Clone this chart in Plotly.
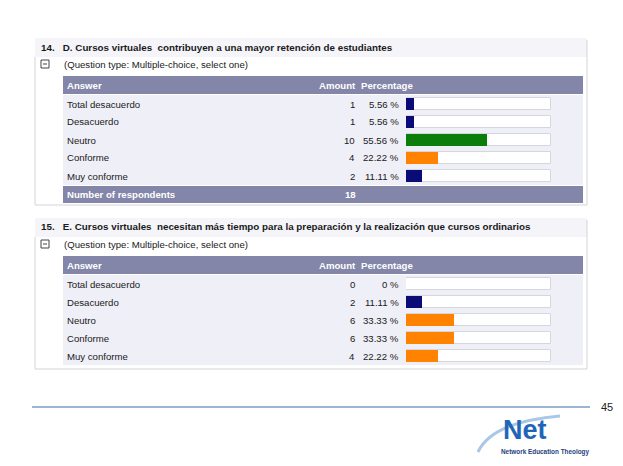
import plotly.graph_objects as go

W, H = 623, 466

answers = ["Total desacuerdo", "Desacuerdo", "Neutro", "Conforme", "Muy conforme"]

q14_title = "14.   D. Cursos virtuales  contribuyen a una mayor retención de estudiantes"
q14_amount = [1, 1, 10, 4, 2]
q14_pct = [5.56, 5.56, 55.56, 22.22, 11.11]
q14_pct_label = ["5.56 %", "5.56 %", "55.56 %", "22.22 %", "11.11 %"]
q14_colors = ["#0b0b78", "#0b0b78", "#0a7d0a", "#ff8200", "#0b0b78"]
q14_total = 18

q15_title = "15.   E. Cursos virtuales  necesitan más tiempo para la preparación y la realización que cursos ordinarios"
q15_amount = [0, 2, 6, 6, 4]
q15_pct = [0, 11.11, 33.33, 33.33, 22.22]
q15_pct_label = ["0 %", "11.11 %", "33.33 %", "33.33 %", "22.22 %"]
q15_colors = ["#0b0b78", "#0b0b78", "#ff8200", "#ff8200", "#ff8200"]

subtitle = "(Question type: Multiple-choice, select one)"
page_number = "45"

FONT = "Liberation Sans, Arial, sans-serif"
HEADER = "#8385a9"
ROWBG = "#efeff7"
TITLEBG = "#f4f4f9"
BORDER = "#d4d4d8"


def px(x):
    return x / W


def py(y):
    return 1 - y / H


fig = go.Figure()
shapes = []
annotations = []


def rect(x0, y0, x1, y1, fill, line=None, lw=0):
    shapes.append(dict(type="rect", xref="paper", yref="paper",
                       x0=px(x0), x1=px(x1), y0=py(y1), y1=py(y0),
                       fillcolor=fill, line=dict(color=line or fill, width=lw), layer="below"))


def hline(x0, x1, y, color, w=1):
    shapes.append(dict(type="line", xref="paper", yref="paper",
                       x0=px(x0), x1=px(x1), y0=py(y), y1=py(y),
                       line=dict(color=color, width=w)))


def vline(x, y0, y1, color, w=1):
    shapes.append(dict(type="line", xref="paper", yref="paper",
                       x0=px(x), x1=px(x), y0=py(y0), y1=py(y1),
                       line=dict(color=color, width=w)))


def text(x, y, s, size=10, color="#1a1a1a", bold=False, anchor="left", family=FONT):
    # compensate the small built-in annotation padding
    if anchor == "left":
        x -= 2
    elif anchor == "right":
        x += 2
    annotations.append(dict(xref="paper", yref="paper", x=px(x), y=py(y), text=("<b>%s</b>" % s) if bold else s,
                            showarrow=False, xanchor=anchor, yanchor="middle",
                            font=dict(family=family, size=size, color=color)))


def panel(top, title, amounts, pct_labels, total, bottom, footer):
    # title band
    rect(35, top, 587, top + 19, TITLEBG)
    vline(35, top + 19, bottom, BORDER)
    vline(587, top + 2, bottom, BORDER)
    hline(35, 587, bottom, BORDER)
    text(41, top + 9, title, size=9.8, bold=True)
    # minus icon
    rect(41, top + 22, 49, top + 30, "#ffffff", "#444444", 1)
    hline(43, 47, top + 26, "#444444", 1)
    text(64, top + 26, subtitle, size=9.6)
    # header
    h0 = top + 38
    rect(63, h0, 583, h0 + 18, HEADER)
    text(67, h0 + 9, "Answer", size=9.6, color="white", bold=True)
    text(356, h0 + 9, "Amount", size=9.6, color="white", bold=True, anchor="right")
    text(361, h0 + 9, "Percentage", size=9.6, color="white", bold=True)
    r0 = h0 + 19
    rect(63, r0, 583, r0 + 90, ROWBG)
    for i, a in enumerate(answers):
        yc = r0 + 9 + 18 * i
        text(67, yc, a, size=9.6)
        text(355, yc, str(amounts[i]), size=9.6, anchor="right")
        text(399, yc, pct_labels[i], size=9.6, anchor="right")
    if footer:
        f0 = r0 + 91
        rect(63, f0, 583, f0 + 17, HEADER)
        text(67, f0 + 8.5, "Number of respondents", size=9.6, color="white", bold=True)
        text(356, f0 + 8.5, str(total), size=9.6, color="white", bold=True, anchor="right")
    return r0


r14 = panel(38, q14_title, q14_amount, q14_pct_label, q14_total, 205, True)
r15 = panel(218, q15_title, q15_amount, q15_pct_label, None, 369, False)

for k, (r0, pct, cols) in enumerate([(r14, q14_pct, q14_colors), (r15, q15_pct, q15_colors)]):
    xa = "x" if k == 0 else "x2"
    ya = "y" if k == 0 else "y2"
    fig.add_trace(go.Bar(y=answers, x=[100] * len(answers), orientation="h", width=0.62,
                         marker=dict(color="#ffffff", line=dict(color="#d6d6de", width=1)),
                         xaxis=xa, yaxis=ya, hoverinfo="skip", showlegend=False))
    fig.add_trace(go.Bar(y=answers, x=pct, orientation="h", width=0.62,
                         marker=dict(color=cols, line=dict(width=0)),
                         xaxis=xa, yaxis=ya, showlegend=False))

ax_common = dict(range=[0, 100], visible=False, fixedrange=True)
fig.update_layout(
    xaxis=dict(domain=[px(406), px(551)], anchor="y", **ax_common),
    yaxis=dict(domain=[py(r14 + 90), py(r14)], range=[4.5, -0.5], visible=False, fixedrange=True,
               categoryorder="array", categoryarray=answers),
    xaxis2=dict(domain=[px(406), px(551)], anchor="y2", **ax_common),
    yaxis2=dict(domain=[py(r15 + 90), py(r15)], range=[4.5, -0.5], visible=False, fixedrange=True,
                categoryorder="array", categoryarray=answers),
)

# footer line and page number
hline(32, 590, 407, "#3b6fa6", 1)
text(607, 407, page_number, size=11, anchor="center", color="#222222")

# logo
shapes.append(dict(type="path", xref="paper", yref="paper",
                   path="M %f %f Q %f %f %f %f" % (px(478), py(452), px(492), py(422), px(560), py(416)),
                   line=dict(color="#a9c7e6", width=3)))
text(525, 430, "Net", size=27, color="#1f66b8", bold=True, anchor="center")
text(545, 452, "Network Education Theology", size=6.4, color="#1d3f7a", bold=True, anchor="center")

fig.update_layout(
    width=W, height=H, margin=dict(l=0, r=0, t=0, b=0),
    paper_bgcolor="white", plot_bgcolor="rgba(0,0,0,0)",
    barmode="overlay", bargap=0, shapes=shapes, annotations=annotations,
    showlegend=False,
)

fig.write_html("out.html", config={"displayModeBar": False},
               post_script="document.body.style.margin='0';document.body.style.padding='0';")
